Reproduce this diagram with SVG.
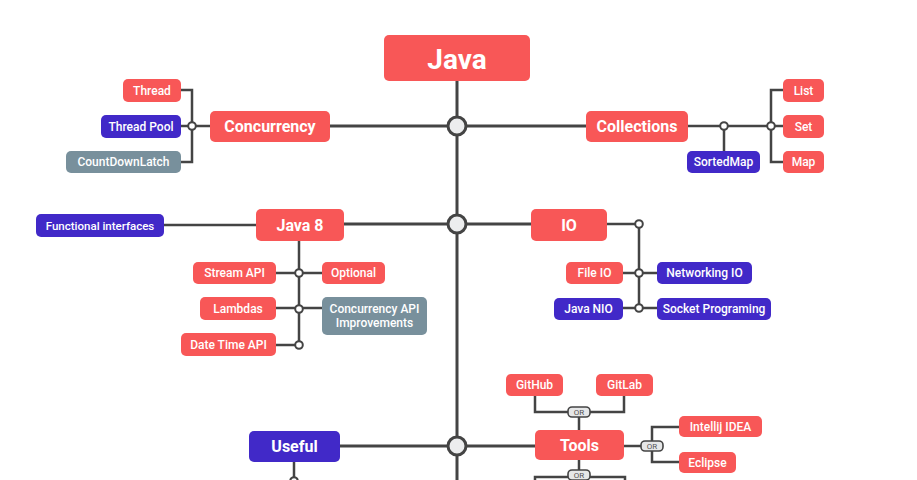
<svg xmlns="http://www.w3.org/2000/svg" width="917" height="480" viewBox="0 0 917 480">
<style>
.r{fill:#F85757}.b{fill:#4129C8}.g{fill:#78909C}
.t{font-family:Roboto,"Liberation Sans",sans-serif;fill:#fff;text-anchor:middle;dominant-baseline:central}
.s{font-size:12px;font-weight:500}
.m{font-size:16px;font-weight:700}
.ln{stroke:#444;stroke-width:2.5;fill:none}
.mn{stroke:#444;stroke-width:3;fill:none}
.big{fill:#ECEDEE;stroke:#444;stroke-width:3}
.sm{fill:#fff;stroke:#444;stroke-width:2}
.or{fill:#E6E7E8;stroke:#444;stroke-width:1.6}
.ot{font-family:Roboto,"Liberation Sans",sans-serif;font-size:8px;fill:#555;text-anchor:middle;dominant-baseline:central}
</style>
<rect width="917" height="480" fill="#fff"/>
<g id="connectors">
<path class="mn" d="M457 81V480"/>
<path class="mn" d="M330 126H586M344 224H531M340 446H535"/>
<path class="ln" d="M164 225H256M181 90H192V162H181M181 126H210"/>
<path class="ln" d="M688 126H771M724 126V151M783 90H771V162H783M771 126H783"/>
<path class="ln" d="M299 241V345M276 273H322M276 308H322M276 345H299"/>
<path class="ln" d="M607 224H639V308M623 273H657M623 308H657"/>
<path class="ln" d="M294 462V480"/>
<path class="ln" d="M535 396V412H624V396M579 412V430"/>
<path class="ln" d="M624 446H652M679 427H652V462H679"/>
<path class="ln" d="M579 460V480M535 480V477H625V480"/>
</g>
<g id="hubs">
<circle class="big" cx="457" cy="126" r="9"/>
<circle class="big" cx="457" cy="224" r="9"/>
<circle class="big" cx="457" cy="446" r="9"/>
<circle class="sm" cx="192" cy="126" r="3.8"/>
<circle class="sm" cx="724" cy="126" r="3.8"/>
<circle class="sm" cx="771" cy="126" r="3.8"/>
<circle class="sm" cx="299" cy="273" r="3.8"/>
<circle class="sm" cx="299" cy="309" r="3.8"/>
<circle class="sm" cx="299" cy="345" r="3.8"/>
<circle class="sm" cx="639" cy="224" r="3.8"/>
<circle class="sm" cx="639" cy="273" r="3.8"/>
<circle class="sm" cx="639" cy="308" r="3.8"/>
<circle class="sm" cx="294" cy="481" r="3.8"/>
<g id="or1"><rect class="or" x="568" y="407" width="22" height="10" rx="4"/><text class="ot" x="579" y="412.5">OR</text></g>
<g id="or2"><rect class="or" x="641" y="441" width="22" height="10" rx="4"/><text class="ot" x="652" y="446.5">OR</text></g>
<g id="or3"><rect class="or" x="568" y="470" width="22" height="10" rx="4"/><text class="ot" x="579" y="475">OR</text></g>
</g>
<g id="java"><rect class="r" x="384" y="35" width="146" height="46" rx="5"/><text class="t" x="457" y="59" style="font-size:28px;font-weight:700">Java</text></g>
<g id="concurrency"><rect class="r" x="210" y="111" width="120" height="31" rx="5"/><text class="t m" x="270" y="126.5">Concurrency</text></g>
<g id="thread"><rect class="r" x="123" y="79" width="58" height="23" rx="5"/><text class="t s" x="152" y="90.5">Thread</text></g>
<g id="threadpool"><rect class="b" x="101" y="115" width="80" height="23" rx="5"/><text class="t s" x="141" y="126.5">Thread Pool</text></g>
<g id="countdownlatch"><rect class="g" x="66" y="151" width="115" height="22" rx="5"/><text class="t s" x="123.5" y="162">CountDownLatch</text></g>
<g id="collections"><rect class="r" x="586" y="111" width="102" height="31" rx="5"/><text class="t m" x="637" y="126.5">Collections</text></g>
<g id="sortedmap"><rect class="b" x="687" y="151" width="73" height="22" rx="5"/><text class="t s" x="723.5" y="162">SortedMap</text></g>
<g id="list"><rect class="r" x="783" y="79" width="41" height="23" rx="5"/><text class="t s" x="803.5" y="90.5">List</text></g>
<g id="set"><rect class="r" x="783" y="115" width="41" height="23" rx="5"/><text class="t s" x="803.5" y="126.5">Set</text></g>
<g id="map"><rect class="r" x="783" y="151" width="41" height="22" rx="5"/><text class="t s" x="803.5" y="162">Map</text></g>
<g id="java8"><rect class="r" x="256" y="209" width="88" height="32" rx="5"/><text class="t m" x="300" y="225">Java 8</text></g>
<g id="functional"><rect class="b" x="36" y="214" width="128" height="23" rx="5"/><text class="t s" x="100" y="225.5" style="font-size:11.5px">Functional interfaces</text></g>
<g id="streamapi"><rect class="r" x="193" y="262" width="83" height="22" rx="5"/><text class="t s" x="234.5" y="273">Stream API</text></g>
<g id="optional"><rect class="r" x="322" y="262" width="63" height="22" rx="5"/><text class="t s" x="353.5" y="273">Optional</text></g>
<g id="lambdas"><rect class="r" x="200" y="297" width="76" height="23" rx="5"/><text class="t s" x="238" y="308.5">Lambdas</text></g>
<g id="concapi"><rect class="g" x="322" y="297" width="105" height="38" rx="5"/><text class="t s" x="374.5" y="309">Concurrency API</text><text class="t s" x="374.5" y="323">Improvements</text></g>
<g id="datetime"><rect class="r" x="181" y="333" width="95" height="23" rx="5"/><text class="t s" x="228.5" y="344.5">Date Time API</text></g>
<g id="io"><rect class="r" x="531" y="209" width="76" height="32" rx="5"/><text class="t m" x="569" y="225">IO</text></g>
<g id="fileio"><rect class="r" x="566" y="262" width="57" height="22" rx="5"/><text class="t s" x="594.5" y="273">File IO</text></g>
<g id="networkingio"><rect class="b" x="657" y="262" width="95" height="22" rx="5"/><text class="t s" x="704.5" y="273">Networking IO</text></g>
<g id="javanio"><rect class="b" x="554" y="298" width="69" height="22" rx="5"/><text class="t s" x="588.5" y="309">Java NIO</text></g>
<g id="socket"><rect class="b" x="657" y="298" width="114" height="22" rx="5"/><text class="t s" x="714" y="309">Socket Programing</text></g>
<g id="useful"><rect class="b" x="249" y="431" width="91" height="31" rx="5"/><text class="t m" x="294.5" y="446.5">Useful</text></g>
<g id="tools"><rect class="r" x="535" y="430" width="89" height="30" rx="5"/><text class="t m" x="579.5" y="445">Tools</text></g>
<g id="github"><rect class="r" x="506" y="374" width="57" height="22" rx="5"/><text class="t s" x="534.5" y="385">GitHub</text></g>
<g id="gitlab"><rect class="r" x="596" y="374" width="57" height="22" rx="5"/><text class="t s" x="624.5" y="385">GitLab</text></g>
<g id="intellij"><rect class="r" x="679" y="416" width="83" height="21" rx="5"/><text class="t s" x="720.5" y="426.5">Intellij IDEA</text></g>
<g id="eclipse"><rect class="r" x="679" y="452" width="57" height="21" rx="5"/><text class="t s" x="707.5" y="462.5">Eclipse</text></g>
</svg>
